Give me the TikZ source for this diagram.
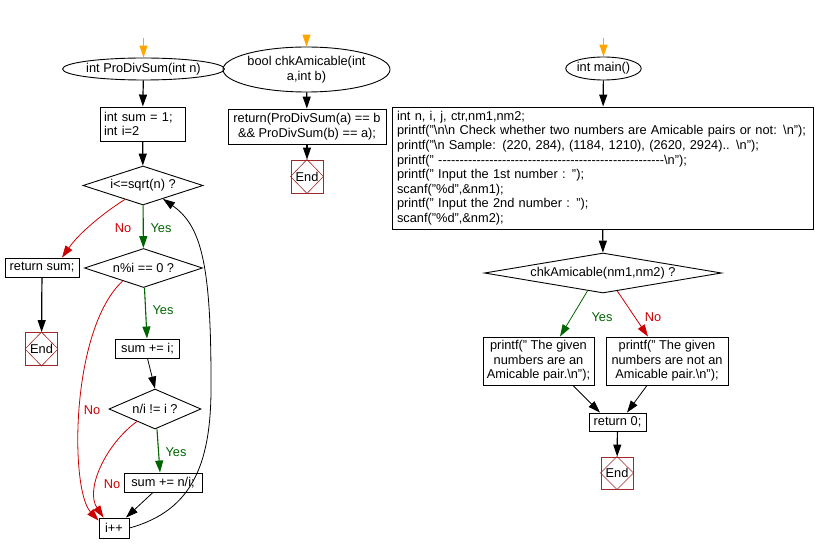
\documentclass[tikz,border=0pt]{standalone}
\usepackage{fontspec}
\setmainfont{Liberation Sans}
\usetikzlibrary{shapes.geometric,arrows.meta,calc}
\definecolor{orng}{RGB}{255,165,0}
\definecolor{nored}{RGB}{204,0,0}
\definecolor{yesgreen}{RGB}{0,100,0}
\definecolor{endred}{RGB}{160,40,40}
\newcount\mydashcnt
\newcommand\mydashes[1]{\mydashcnt=0 \loop\ifnum\mydashcnt<#1 -\kern0pt\advance\mydashcnt by 1 \repeat}
\newcommand\bs{\textbackslash}
\begin{document}
\begin{tikzpicture}[x=1pt,y=-1pt,
  font=\fontsize{12.8}{14.6}\selectfont,
  proc/.style={draw, line width=0.9pt, inner sep=0pt, align=center},
  term/.style={draw, ellipse, line width=0.9pt, inner sep=0pt, align=center},
  dec/.style={draw, diamond, line width=0.9pt, inner sep=0pt},
  endbox/.style={draw=endred, line width=0.9pt, minimum width=32pt, minimum height=33pt, inner sep=0pt},
  tip/.style={-{Triangle[length=12pt,width=8pt]}},
  flow/.style={tip, line width=1.2pt, black},
  thinflow/.style={tip, line width=0.8pt, black},
  startflow/.style={tip, line width=1.2pt, orng},
  yesflow/.style={tip, line width=1.1pt, yesgreen},
  noflow/.style={tip, line width=0.8pt, nored},
  yeslab/.style={text=yesgreen, inner sep=0pt},
  nolab/.style={text=nored, inner sep=0pt}
]
\useasboundingbox (0,0) rectangle (816,553);

% ---------- left column ----------
\coordinate (s1) at (143.5,38);
\node[term, minimum width=131pt, minimum height=22pt] (p1) at (143.5,69) {int ProDivSum(int n)};
\node[proc, minimum width=85pt, minimum height=34pt, text width=77pt, align=left] (b1) at (142.5,124) {int sum = 1;\\int i=2};
\node[dec, aspect=3.08, minimum width=120pt, minimum height=39pt] (d1) at (143,185.5) {i<=sqrt(n) ?};
\node[dec, aspect=3.03, minimum width=118pt, minimum height=39pt] (d2) at (143.5,268) {n\%i == 0 ?};
\node[proc, minimum width=74pt, minimum height=19pt] (ret) at (42,267.5) {return sum;};
\node[endbox] (e1) at (41.5,349) {End};
\node[proc, minimum width=64pt, minimum height=19pt] (si) at (147.5,348.5) {sum += i;};
\node[dec, aspect=2.3, minimum width=92pt, minimum height=40pt] (d3) at (155,409) {n/i != i ?};
\node[proc, minimum width=78pt, minimum height=19pt] (sn) at (163,482.5) {sum += n/i;};
\node[proc, minimum width=30pt, minimum height=20pt] (ip) at (114,528) {i++};

\draw[startflow] (s1) -- (p1);
\draw[flow] (p1) -- (b1);
\draw[flow] (b1) -- (d1);
\draw[yesflow] (d1) -- (d2);
\draw[noflow] ($(d1.south)!0.3!(d1.west)$) .. controls (105,212) and (80,232) .. ([xshift=20pt]ret.north);
\draw[flow] (ret) -- (e1);
\draw[yesflow] (d2) -- (si);
\draw[noflow] ($(d2.south)!0.35!(d2.west)$) .. controls (70,330) and (70,490) .. ([yshift=-3pt]ip.north west);
\draw[thinflow] (si.south) -- (d3.north);
\draw[yesflow] ([xshift=2pt]d3.south) -- ([xshift=-3pt]sn.north);
\draw[noflow] ($(d3.south)!0.39!(d3.west)$) .. controls (105,445) and (85,490) .. ([xshift=5pt]ip.north west);
\draw[thinflow] ([xshift=-10pt]sn.south) -- ([xshift=12pt]ip.north);
\draw[thinflow] (ip.east) .. controls (195,510) and (212,460) .. (211,380)
  .. controls (211,260) and (200,225) .. ($(d1.south)!0.33!(d1.east)$);

\node[yeslab] (ly1) at (161,228) {Yes};
\node[nolab] (ln1) at (123,228) {No};
\node[yeslab] (ly2) at (163,310) {Yes};
\node[nolab] (ln2) at (92,410) {No};
\node[yeslab] (ly3) at (176,452) {Yes};
\node[nolab] (ln3) at (112,484) {No};

% ---------- middle column ----------
\coordinate (s2) at (306.5,38);
\node[term, minimum width=143pt, minimum height=45pt] (p2) at (306.5,69.5) {bool chkAmicable(int\\a,int b)};
\node[proc, minimum width=158pt, minimum height=35pt] (b2) at (307,126.5) {return(ProDivSum(a) == b\\ \&\& ProDivSum(b) == a);};
\node[endbox, minimum width=32pt] (e2) at (307,176.5) {End};
\draw[startflow] (s2) -- (p2);
\draw[flow] (p2) -- (b2);
\draw[flow] (b2) -- (e2);

% ---------- right column ----------
\coordinate (s3) at (603.5,38);
\node[term, minimum width=71pt, minimum height=23pt] (p3) at (603.5,68.5) {int main()};
\node[proc, minimum width=421pt, minimum height=122pt, text width=411pt, align=left] (b3) at (602.5,168) {%
int n, i, j, ctr,nm1,nm2;\\
printf("\bs n\bs n Check whether two numbers are Amicable pairs or not: \bs n");\\
printf("\bs n Sample: (220, 284), (1184, 1210), (2620, 2924).. \bs n");\\
printf(" \mydashes{53}\bs n");\\
printf(" Input the 1st number : ");\\
scanf("\%d",\&nm1);\\
printf(" Input the 2nd number : ");\\
scanf("\%d",\&nm2);};
\node[dec, aspect=5.9, minimum width=237pt, minimum height=40pt] (d4) at (603,273) {chkAmicable(nm1,nm2) ?};
\node[proc, minimum width=111pt, minimum height=48pt] (by) at (538.5,361) {printf(" The given\\numbers are an\\Amicable pair.\bs n");};
\node[proc, minimum width=122pt, minimum height=48pt] (bn) at (667,361) {printf(" The given\\numbers are not an\\Amicable pair.\bs n");};
\node[proc, minimum width=57pt, minimum height=18pt] (r0) at (617.5,422) {return 0;};
\node[endbox, minimum height=32pt] (e3) at (617,473) {End};

\draw[startflow] (s3) -- (p3);
\draw[flow] (p3) -- (b3);
\draw[flow] (b3) -- (d4);
\draw[yesflow, line width=0.8pt] ($(d4.south)!0.13!(d4.west)$) -- ([xshift=21.5pt]by.north);
\draw[noflow] ($(d4.south)!0.12!(d4.east)$) -- ([xshift=-19pt]bn.north);
\draw[thinflow] ([xshift=34.5pt]by.south) -- ([xshift=-17.5pt]r0.north);
\draw[thinflow] ([xshift=-20pt]bn.south) -- ([xshift=9.5pt]r0.north);
\draw[flow] (r0) -- (e3);

\node[yeslab] (ly4) at (602,317) {Yes};
\node[nolab] (ln4) at (653,317) {No};

% inner diamonds of End nodes
\foreach \e in {e1,e2,e3}{
  \draw[endred, line width=0.6pt] (\e.north) -- (\e.east) -- (\e.south) -- (\e.west) -- cycle;
}
\end{tikzpicture}
\end{document}
